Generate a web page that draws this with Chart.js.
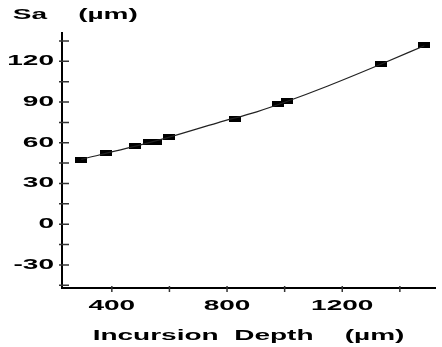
<!DOCTYPE html>
<html>
<head>
<meta charset="utf-8">
<script src="https://cdn.jsdelivr.net/npm/chart.js@4/dist/chart.umd.min.js"></script>
<style>
  html, body { margin: 0; padding: 0; background: #fff; }
  #wrap { width: 442px; height: 347px; }
</style>
</head>
<body>
<div id="wrap"><canvas id="sa-chart"></canvas></div>
<script>
  /* Sa roughness against incursion depth: measured points plus a smooth trend */
  var depths   = [294, 380, 480, 528, 552, 598, 828, 978, 1008, 1333, 1485];
  var saValues = [47.6, 52.2, 57.3, 60.2, 60.7, 64.1, 77.5, 88.6, 90.8, 118, 131.9];

  var trendDepths = [294, 450, 600, 767, 903, 1000, 1150, 1334, 1485];
  var trendSa     = [47.8, 55.8, 64.2, 74.7, 82.8, 89.8, 101.8, 117.8, 131.5];

  var xTicks    = [400, 600, 800, 1000, 1200, 1400];
  var xLabelled = [400, 800, 1200];
  var yTicks    = [-45, -30, -15, 0, 15, 30, 45, 60, 75, 90, 105, 120, 135];
  var yLabelled = [-30, 0, 30, 60, 90, 120];

  var FONT = "'Liberation Sans', Arial, sans-serif";
  var STRETCH = 2;

  // flat black bar used as the point marker
  var marker = document.createElement('canvas');
  marker.width = 12;
  marker.height = 6;
  (function () {
    var c = marker.getContext('2d');
    c.fillStyle = '#000';
    c.fillRect(0, 0, 12, 6);
  })();

  // wide lettering: every label is drawn stretched horizontally about its anchor
  function widenText(ctx) {
    if (ctx._widened) return;
    ctx._widened = true;
    var fill = ctx.fillText;
    var measure = ctx.measureText;
    ctx.fillText = function (text, x, y) {
      this.save();
      this.translate(x, y);
      this.scale(STRETCH, 1);
      fill.call(this, text, 0, 0);
      this.restore();
    };
    ctx.measureText = function (text) {
      var m = measure.call(this, text);
      return {
        width: m.width * STRETCH,
        actualBoundingBoxLeft: m.actualBoundingBoxLeft * STRETCH,
        actualBoundingBoxRight: m.actualBoundingBoxRight * STRETCH,
        actualBoundingBoxAscent: m.actualBoundingBoxAscent,
        actualBoundingBoxDescent: m.actualBoundingBoxDescent
      };
    };
  }

  var lettering = {
    id: 'lettering',
    beforeInit: function (chart) { widenText(chart.ctx); }
  };

  // tick marks crossing the axes (mostly inward on y, outward on x)
  var tickMarks = {
    id: 'tickMarks',
    afterDraw: function (chart) {
      var ctx = chart.ctx, xs = chart.scales.x, ys = chart.scales.y, area = chart.chartArea;
      ctx.save();
      ctx.strokeStyle = '#333';
      ctx.lineWidth = 1.5;
      ctx.beginPath();
      ys.ticks.forEach(function (t) {
        var py = ys.getPixelForValue(t.value);
        ctx.moveTo(area.left - 3, py);
        ctx.lineTo(area.left + 7, py);
      });
      xs.ticks.forEach(function (t) {
        var px = xs.getPixelForValue(t.value);
        ctx.moveTo(px, area.bottom - 2);
        ctx.lineTo(px, area.bottom + 4);
      });
      ctx.stroke();
      ctx.restore();
    }
  };

  function pick(list) {
    return function (v) { return list.indexOf(v) !== -1 ? String(v) : ''; };
  }

  function toXY(xs, ys) {
    return xs.map(function (d, i) { return { x: d, y: ys[i] }; });
  }

  new Chart(document.getElementById('sa-chart'), {
    type: 'line',
    data: {
      datasets: [{
        data: toXY(trendDepths, trendSa),
        borderColor: '#222',
        borderWidth: 1.2,
        cubicInterpolationMode: 'monotone',
        pointRadius: 0,
        pointHoverRadius: 0,
        clip: false
      }, {
        data: toXY(depths, saValues),
        showLine: false,
        pointStyle: marker,
        pointRadius: 6,
        pointHoverRadius: 6,
        clip: false
      }]
    },
    options: {
      responsive: true,
      maintainAspectRatio: false,
      animation: false,
      layout: { padding: { left: 5, right: 1, top: 0, bottom: 0 } },
      plugins: {
        legend: { display: false },
        tooltip: { enabled: false },
        title: {
          display: true,
          text: ' Sa    (µm)',
          align: 'start',
          color: '#000',
          font: { family: FONT, size: 14, weight: 'bold' },
          padding: { top: 7, bottom: 9 }
        }
      },
      scales: {
        x: {
          type: 'linear',
          min: 227,
          max: 1522,
          afterBuildTicks: function (scale) {
            scale.ticks = xTicks.map(function (v) { return { value: v }; });
          },
          afterFit: function (scale) { scale.height = 59; },
          grid: { display: false, drawTicks: false },
          border: { display: true, color: '#000', width: 2 },
          ticks: {
            autoSkip: false,
            maxRotation: 0,
            padding: 10,
            color: '#000',
            font: { family: FONT, size: 14, weight: 'bold' },
            callback: pick(xLabelled)
          },
          title: {
            display: true,
            text: 'Incursion  Depth    (µm)',
            color: '#000',
            font: { family: FONT, size: 14, weight: 'bold' },
            padding: { top: 0, bottom: 2 }
          }
        },
        y: {
          type: 'linear',
          min: -47,
          max: 141,
          afterBuildTicks: function (scale) {
            scale.ticks = yTicks.map(function (v) { return { value: v }; });
          },
          afterFit: function (scale) { scale.width = 57; },
          grid: { display: false, drawTicks: false },
          border: { display: true, color: '#000', width: 2 },
          ticks: {
            autoSkip: false,
            padding: 8,
            color: '#000',
            font: { family: FONT, size: 14, weight: 'bold' },
            callback: pick(yLabelled)
          }
        }
      }
    },
    plugins: [lettering, tickMarks]
  });
</script>
</body>
</html>
